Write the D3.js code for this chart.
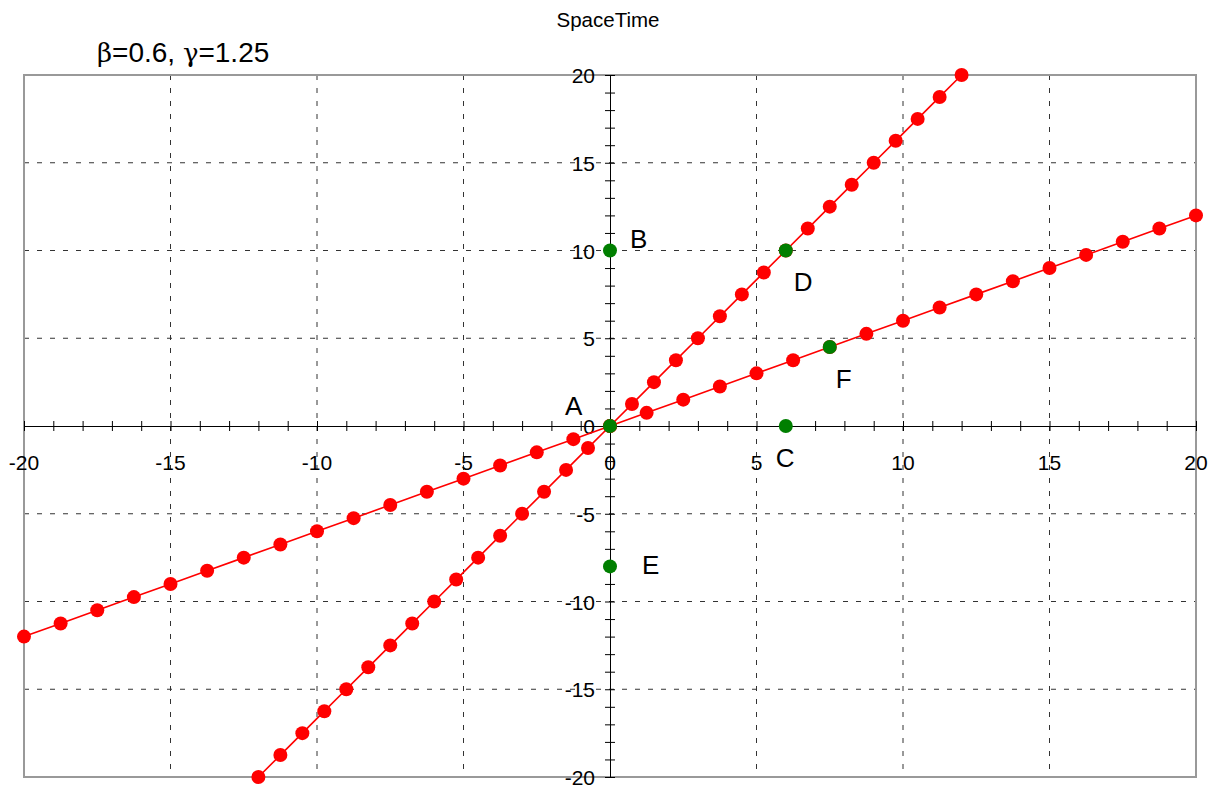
<!DOCTYPE html>
<html>
<head>
<meta charset="utf-8">
<script src="https://cdn.jsdelivr.net/npm/d3@7"></script>
<style>
body{margin:0;background:#fff;}
svg{display:block;font-family:"Liberation Sans",Arial,sans-serif;}
</style>
</head>
<body>
<svg id="chart" width="1214" height="789"></svg>
<script>
// Data
const title = "SpaceTime";
const subtitleParts = [["β","greek"],["=0.6, ","plain"],["γ","greek"],["=1.25","plain"]];
const tickValues = [-20,-15,-10,-5,0,5,10,15,20];
const gridValues = [-15,-10,-5,5,10,15];
// Moving observer worldline (ct' axis): x, t
const ctAxisX = [-12,-11.25,-10.5,-9.75,-9,-8.25,-7.5,-6.75,-6,-5.25,-4.5,-3.75,-3,-2.25,-1.5,-0.75,0,0.75,1.5,2.25,3,3.75,4.5,5.25,6,6.75,7.5,8.25,9,9.75,10.5,11.25,12];
const ctAxisT = [-20,-18.75,-17.5,-16.25,-15,-13.75,-12.5,-11.25,-10,-8.75,-7.5,-6.25,-5,-3.75,-2.5,-1.25,0,1.25,2.5,3.75,5,6.25,7.5,8.75,10,11.25,12.5,13.75,15,16.25,17.5,18.75,20];
// x' axis: x, t
const xAxisX = [-20,-18.75,-17.5,-16.25,-15,-13.75,-12.5,-11.25,-10,-8.75,-7.5,-6.25,-5,-3.75,-2.5,-1.25,0,1.25,2.5,3.75,5,6.25,7.5,8.75,10,11.25,12.5,13.75,15,16.25,17.5,18.75,20];
const xAxisT = [-12,-11.25,-10.5,-9.75,-9,-8.25,-7.5,-6.75,-6,-5.25,-4.5,-3.75,-3,-2.25,-1.5,-0.75,0,0.75,1.5,2.25,3,3.75,4.5,5.25,6,6.75,7.5,8.25,9,9.75,10.5,11.25,12];
// Events
const eventNames = ["A","B","C","D","E","F"];
const eventX = [0,0,6,6,0,7.5];
const eventT = [0,10,0,10,-8,4.5];

const svg = d3.select("#chart");
const L=24,R=1196,T=75,B=777;
const x = d3.scaleLinear().domain([-20,20]).range([L,R]);
const y = d3.scaleLinear().domain([-20,20]).range([B,T]);

// grid
const g = svg.append("g");
g.selectAll(".vg").data(gridValues).join("line")
  .attr("x1",d=>x(d)).attr("x2",d=>x(d)).attr("y1",T).attr("y2",B)
  .attr("stroke","#333").attr("stroke-width",1).attr("stroke-dasharray","5,8");
g.selectAll(".hg").data(gridValues).join("line")
  .attr("y1",d=>y(d)).attr("y2",d=>y(d)).attr("x1",L).attr("x2",R)
  .attr("stroke","#333").attr("stroke-width",1).attr("stroke-dasharray","5,8");

// frame
svg.append("rect").attr("x",L).attr("y",T).attr("width",R-L).attr("height",B-T)
  .attr("fill","none").attr("stroke","#999").attr("stroke-width",2);

// axes through origin
const xa = d3.axisBottom(x).ticks(40).tickSize(5).tickSizeOuter(0).tickFormat("");
const ya = d3.axisLeft(y).ticks(40).tickSize(5).tickSizeOuter(0).tickFormat("");
const gx = svg.append("g").attr("transform",`translate(0,${y(0)})`).call(xa);
gx.select(".domain").attr("stroke","#000");
gx.selectAll(".tick line").attr("y1",-5).attr("y2",5).attr("stroke","#000");
const gy = svg.append("g").attr("transform",`translate(${x(0)},0)`).call(ya);
gy.select(".domain").attr("stroke","#000");
gy.selectAll(".tick line").attr("x1",-5).attr("x2",5).attr("stroke","#000");

// tick labels
svg.append("g").selectAll("text").data(tickValues).join("text")
  .attr("x",d=>x(d)).attr("y",y(0)+44).attr("text-anchor","middle")
  .attr("font-size",21).attr("fill","#000").text(d=>d);
svg.append("g").selectAll("text").data(tickValues).join("text")
  .attr("x",x(0)-15).attr("y",d=>y(d)+8).attr("text-anchor","end")
  .attr("font-size",21).attr("fill","#000").text(d=>d);

// lines
const line = d3.line().x(d=>x(d[0])).y(d=>y(d[1]));
const s1 = ctAxisX.map((v,i)=>[v,ctAxisT[i]]);
const s2 = xAxisX.map((v,i)=>[v,xAxisT[i]]);
[s1,s2].forEach(s=>{
  svg.append("path").datum(s).attr("d",line).attr("fill","none")
    .attr("stroke","#ff0000").attr("stroke-width",1.6);
  svg.append("g").selectAll("circle").data(s).join("circle")
    .attr("cx",d=>x(d[0])).attr("cy",d=>y(d[1])).attr("r",7).attr("fill","#ff0000");
});

// events
const ev = eventNames.map((n,i)=>({n,x:eventX[i],t:eventT[i]}));
svg.append("g").selectAll("circle").data(ev).join("circle")
  .attr("cx",d=>x(d.x)).attr("cy",d=>y(d.t)).attr("r",7).attr("fill","#007f00");
// label positions relative to the event marker (pixels)
const lblDX = [-45,20,-10,8,32,6];
const lblDY = [-11,-3,41,40,8,41];
svg.append("g").selectAll("text").data(ev).join("text")
  .attr("x",(d,i)=>x(d.x)+lblDX[i]).attr("y",(d,i)=>y(d.t)+lblDY[i])
  .attr("font-size",26).attr("fill","#000").text(d=>d.n);

// titles
svg.append("text").attr("x",608).attr("y",27).attr("text-anchor","middle")
  .attr("font-size",20.5).attr("fill","#000").text(title);
const st = svg.append("text").attr("x",97).attr("y",62)
  .attr("font-size",28).attr("fill","#000");
st.selectAll("tspan").data(subtitleParts).join("tspan")
  .attr("font-family",d=>d[1]==="greek"?"DejaVu Serif, serif":null)
  .attr("font-size",d=>d[1]==="greek"?26:null)
  .text(d=>d[0]);
</script>
</body>
</html>
